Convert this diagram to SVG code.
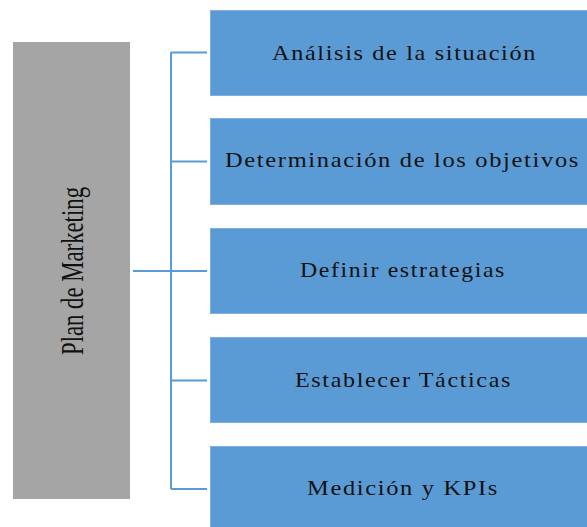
<svg xmlns="http://www.w3.org/2000/svg" width="587" height="527" viewBox="0 0 587 527">
<style>
.box{fill:#5b9bd5;stroke:#7fb0e0;stroke-width:1}
.lbl{font-family:'Liberation Serif','Times New Roman',serif;font-size:22px;letter-spacing:1.5px;fill:#111;text-anchor:middle}
.conn{stroke:#5b9bd5;stroke-width:2;fill:none}
</style>
<rect width="587" height="527" fill="#ffffff"/>
<g id="root">
<rect x="13" y="42" width="117" height="457" fill="#a5a5a5"/>
<text transform="translate(83,271) rotate(-90)" text-anchor="middle" font-family="'Liberation Serif','Times New Roman',serif" font-size="32" fill="#111" textLength="168" lengthAdjust="spacingAndGlyphs">Plan de Marketing</text>
</g>
<g id="connectors">
<path class="conn" d="M133 271H207"/>
<path class="conn" d="M171 52V489"/>
<path class="conn" d="M171 52.5H207M171 161.5H207M171 380.5H207M171 489H207"/>
</g>
<g id="n1">
<rect class="box" x="210.5" y="10.5" width="380" height="85"/>
<text class="lbl" x="404.5" y="60" textLength="265" lengthAdjust="spacingAndGlyphs">Análisis de la situación</text>
</g>
<g id="n2">
<rect class="box" x="210.5" y="118.5" width="380" height="86"/>
<text class="lbl" x="402.5" y="167" textLength="355" lengthAdjust="spacingAndGlyphs">Determinación de los objetivos</text>
</g>
<g id="n3">
<rect class="box" x="210.5" y="228.5" width="380" height="85"/>
<text class="lbl" x="403" y="277" textLength="206" lengthAdjust="spacingAndGlyphs">Definir estrategias</text>
</g>
<g id="n4">
<rect class="box" x="210.5" y="337.5" width="380" height="85"/>
<text class="lbl" x="403.5" y="387" textLength="217" lengthAdjust="spacingAndGlyphs">Establecer Tácticas</text>
</g>
<g id="n5">
<rect class="box" x="210.5" y="446.5" width="380" height="85"/>
<text class="lbl" x="403" y="495" textLength="192" lengthAdjust="spacingAndGlyphs">Medición y KPIs</text>
</g>
</svg>
